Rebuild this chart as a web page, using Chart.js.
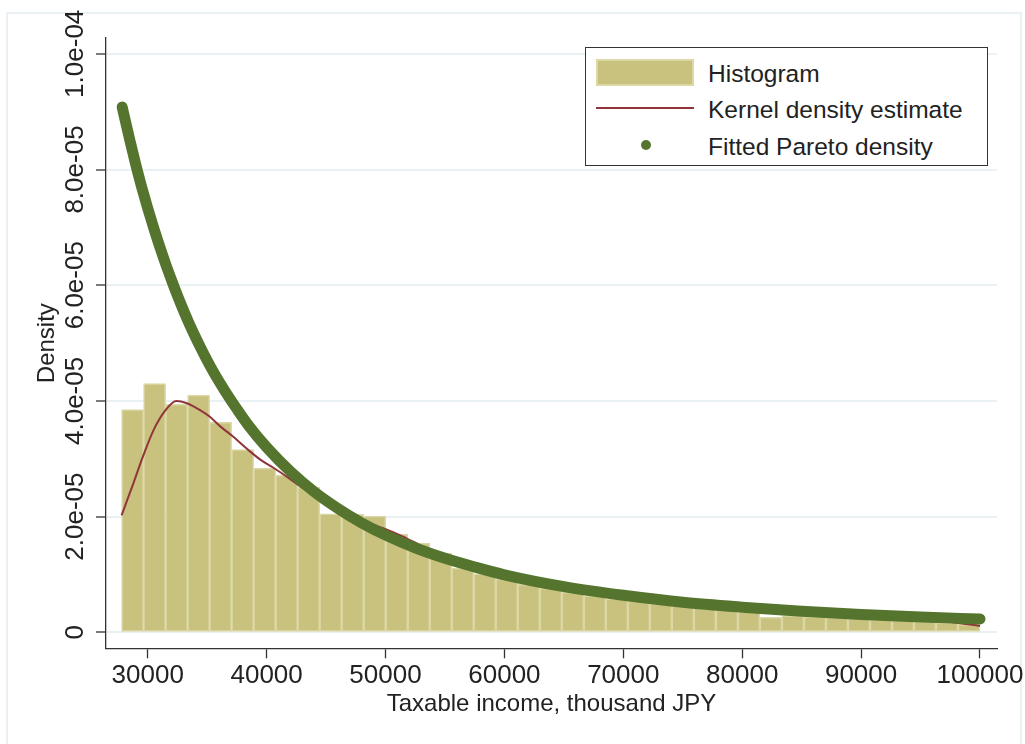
<!DOCTYPE html>
<html>
<head>
<meta charset="utf-8">
<title>Taxable income density</title>
<script src="https://cdn.jsdelivr.net/npm/chart.js@4.4.1/dist/chart.umd.min.js"></script>
<style>
  html, body { margin: 0; padding: 0; background: #fff; }
  #wrap { position: relative; width: 1025px; height: 744px; overflow: hidden; }
  #frame { position: absolute; left: 6px; top: 12px; width: 1012px; height: 760px; border: 2px solid #eaf1f4; }
  #chart { position: absolute; left: 0; top: 0; }
  #legend {
    position: absolute; left: 585px; top: 47px; width: 401px; height: 117px;
    border: 1px solid #333; background: #fff;
    font-family: 'Liberation Sans', Arial, sans-serif; font-size: 24.5px; color: #222;
  }
  #legend .txt { position: absolute; left: 122px; line-height: 24.5px; white-space: nowrap; }
  #legend .sw { position: absolute; }
</style>
</head>
<body>
<div id="wrap">
  <div id="frame"></div>
  <canvas id="chart" width="1025" height="744"></canvas>
  <div id="legend">
    <div class="sw" style="left:10px;top:11px;width:94px;height:23px;background:#c9c27f;border:2px solid #dcd8a6;"></div>
    <div class="txt" style="top:14px;">Histogram</div>
    <div class="sw" style="left:10px;top:59px;width:98px;height:2px;background:#90353b;"></div>
    <div class="txt" style="top:50px;">Kernel density estimate</div>
    <div class="sw" style="left:55px;top:92px;width:10px;height:10px;border-radius:50%;background:#55752f;"></div>
    <div class="txt" style="top:87px;">Fitted Pareto density</div>
  </div>
</div>
<script>
// Axis ticks
const xTickValues = [30000, 40000, 50000, 60000, 70000, 80000, 90000, 100000];
const yTickValues = [0, 2e-5, 4e-5, 6e-5, 8e-5, 1e-4];
const yTickLabels = ['0', '2.0e-05', '4.0e-05', '6.0e-05', '8.0e-05', '1.0e-04'];

// Histogram: bin midpoints (thousand JPY) and densities
const binMids = [28726, 30577, 32428, 34280, 36131, 37982, 39833, 41685, 43536, 45387,
  47238, 49090, 50941, 52792, 54644, 56495, 58346, 60197, 62049, 63900,
  65751, 67602, 69454, 71305, 73156, 75008, 76859, 78710, 80561, 82413,
  84264, 86115, 87966, 89818, 91669, 93520, 95372, 97223, 99074];
const histDensity = [3.85e-5, 4.30e-5, 3.94e-5, 4.10e-5, 3.63e-5, 3.16e-5, 2.84e-5, 2.72e-5, 2.51e-5, 2.05e-5,
  2.04e-5, 2.01e-5, 1.70e-5, 1.54e-5, 1.37e-5, 1.11e-5, 1.01e-5, 9.2e-6, 8.3e-6, 7.6e-6,
  6.9e-6, 6.3e-6, 5.8e-6, 5.4e-6, 5.0e-6, 4.6e-6, 4.3e-6, 4.0e-6, 3.6e-6, 2.6e-6,
  2.9e-6, 2.7e-6, 2.6e-6, 2.4e-6, 2.2e-6, 2.1e-6, 1.9e-6, 1.7e-6, 1.4e-6];

// Kernel density estimate
const kdeX = [27800, 28800, 29600, 30500, 31500, 32400, 33300, 34400, 35200, 36100,
  37200, 38300, 39500, 40600, 41700, 43000, 44500, 46000, 47500, 49000,
  49800, 51200, 52300, 54000, 56000, 58000, 60000, 63000, 66000, 70000,
  75000, 80000, 85000, 90000, 95000, 97500, 100000];
const kdeY = [2.02e-5, 2.58e-5, 3.04e-5, 3.50e-5, 3.84e-5, 4.00e-5, 3.96e-5, 3.84e-5, 3.73e-5, 3.56e-5,
  3.38e-5, 3.18e-5, 2.98e-5, 2.84e-5, 2.69e-5, 2.50e-5, 2.32e-5, 2.16e-5, 2.00e-5, 1.86e-5,
  1.80e-5, 1.68e-5, 1.57e-5, 1.39e-5, 1.22e-5, 1.09e-5, 9.8e-6, 8.5e-6, 7.4e-6, 6.2e-6,
  5.1e-6, 4.2e-6, 3.5e-6, 2.9e-6, 2.3e-6, 1.8e-6, 1.1e-6];

// Fitted Pareto density
const paretoX = [27850, 28500, 29000, 29500, 30500, 31500, 32000, 32500, 33500, 34500,
  35500, 36500, 37500, 38500, 40000, 42000, 44000, 46000, 48000, 50000,
  52500, 55000, 57500, 60000, 65000, 70000, 75000, 80000, 85000, 90000,
  95000, 100000];
const paretoY = [9.08e-5, 8.50e-5, 8.08e-5, 7.69e-5, 6.99e-5, 6.37e-5, 6.09e-5, 5.82e-5, 5.33e-5, 4.90e-5,
  4.51e-5, 4.17e-5, 3.86e-5, 3.57e-5, 3.20e-5, 2.78e-5, 2.43e-5, 2.14e-5, 1.89e-5, 1.68e-5,
  1.46e-5, 1.28e-5, 1.13e-5, 9.95e-6, 7.9e-6, 6.4e-6, 5.2e-6, 4.35e-6, 3.65e-6, 3.1e-6,
  2.65e-6, 2.3e-6];

const fontFamily = "'Liberation Sans', Arial, sans-serif";
Chart.defaults.font.family = fontFamily;
Chart.defaults.color = '#222';

const ctx = document.getElementById('chart').getContext('2d');
new Chart(ctx, {
  type: 'bar',
  data: {
    datasets: [
      {
        type: 'line',
        label: 'Fitted Pareto density',
        data: paretoX.map((x, i) => ({ x: x, y: paretoY[i] })),
        borderColor: '#55752f',
        borderWidth: 11,
        borderCapStyle: 'round',
        borderJoinStyle: 'round',
        pointRadius: 0,
        cubicInterpolationMode: 'monotone',
        order: 0
      },
      {
        type: 'line',
        label: 'Kernel density estimate',
        data: kdeX.map((x, i) => ({ x: x, y: kdeY[i] })),
        borderColor: '#90353b',
        borderWidth: 2,
        pointRadius: 0,
        cubicInterpolationMode: 'monotone',
        order: 1
      },
      {
        type: 'bar',
        label: 'Histogram',
        data: binMids.map((x, i) => ({ x: x, y: histDensity[i] })),
        backgroundColor: '#c9c27f',
        borderColor: '#dcd8a6',
        borderWidth: 1.5,
        borderSkipped: false,
        barPercentage: 1,
        categoryPercentage: 1,
        order: 2
      }
    ]
  },
  options: {
    responsive: false,
    animation: false,
    layout: { padding: { left: 0, right: 28, top: 38, bottom: 0 } },
    plugins: { legend: { display: false }, tooltip: { enabled: false } },
    scales: {
      x: {
        type: 'linear',
        offset: false,
        min: 26490,
        max: 101430,
        afterBuildTicks: s => { s.ticks = xTickValues.map(v => ({ value: v })); },
        afterFit: s => { s.height = 744 - 648.3; s.paddingLeft = 0; s.paddingRight = 0; },
        ticks: {
          autoSkip: false, maxRotation: 0, padding: 2,
          font: { size: 26 }, color: '#222',
          callback: v => String(v)
        },
        grid: { offset: false, drawOnChartArea: false, tickLength: 10, tickColor: '#333', tickWidth: 1.3 },
        border: { color: '#333', width: 1.3 },
        title: {
          display: true, text: 'Taxable income, thousand JPY',
          font: { size: 24 }, color: '#222', padding: { top: 0, bottom: 25 }
        }
      },
      y: {
        type: 'linear',
        min: -2.76e-6,
        max: 1.0273e-4,
        afterBuildTicks: s => { s.ticks = yTickValues.map(v => ({ value: v })); },
        afterFit: s => { s.width = 106; s.paddingTop = 0; s.paddingBottom = 0; },
        ticks: {
          autoSkip: false, minRotation: 90, maxRotation: 90,
          crossAlign: 'center', padding: -24,
          font: { size: 26 }, color: '#222',
          callback: (v, i) => yTickLabels[i]
        },
        grid: { color: '#eaf1f4', lineWidth: 2, tickLength: 10, tickColor: '#333', tickWidth: 1.3 },
        border: { color: '#333', width: 1.3 },
        title: {
          display: true, text: 'Density',
          font: { size: 24 }, color: '#222', padding: { top: 33, bottom: 0 }
        }
      }
    }
  }
});
</script>
</body>
</html>
